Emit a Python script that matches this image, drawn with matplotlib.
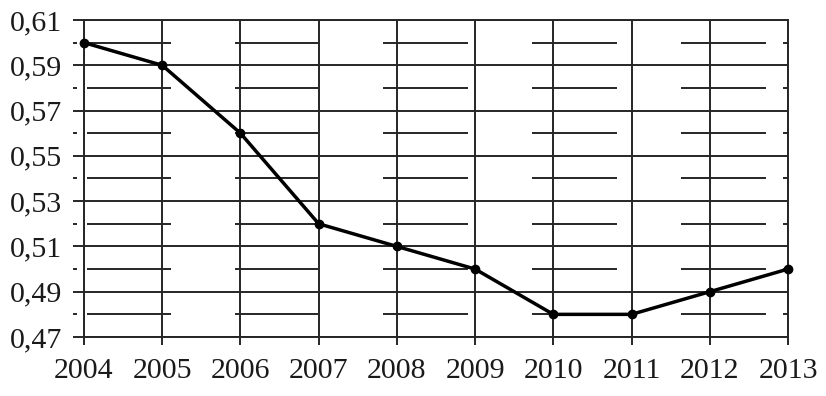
import matplotlib
matplotlib.use("Agg")
import matplotlib.pyplot as plt
from matplotlib.ticker import FuncFormatter

# DATA
years = [2004, 2005, 2006, 2007, 2008, 2009, 2010, 2011, 2012, 2013]
values = [0.60, 0.59, 0.56, 0.52, 0.51, 0.50, 0.48, 0.48, 0.49, 0.50]
y_major = [0.47, 0.49, 0.51, 0.53, 0.55, 0.57, 0.59, 0.61]
y_minor = [0.48, 0.50, 0.52, 0.54, 0.56, 0.58, 0.60]

# broken minor gridline pieces (in year units), as in the original picture
minor_spans = [(2004.04, 2005.11), (2005.93, 2006.99), (2007.82, 2008.91),
               (2009.73, 2010.82), (2011.63, 2012.72), (2012.93, 2013.0)]

GRID = "#262626"
LW = 1.4

plt.rcParams["font.family"] = ["Liberation Serif", "DejaVu Serif"]

fig = plt.figure(figsize=(8.26, 3.96), dpi=100)
ax = fig.add_axes([84 / 826, 1 - 337 / 396, (788 - 84) / 826, (337 - 20) / 396])

ax.set_xlim(2004, 2013)
ax.set_ylim(0.47, 0.61)
ax.set_xticks(years)
ax.set_yticks(y_major)
ax.yaxis.set_major_formatter(FuncFormatter(lambda v, p: f"{v:.2f}".replace(".", ",")))

ax.tick_params(axis="x", direction="out", length=6, width=LW, color=GRID,
               labelsize=21.5, pad=9, labelcolor="#1a1a1a")
ax.tick_params(axis="y", direction="out", length=8, width=LW, color=GRID,
               labelsize=21.5, pad=8, labelcolor="#1a1a1a")

for s in ax.spines.values():
    s.set_linewidth(LW)
    s.set_color(GRID)

ax.grid(True, color=GRID, linewidth=LW)

# minor levels: short dash left of the axis + broken segments
for y in y_minor:
    ax.plot([2003.86, 2003.91], [y, y], color=GRID, lw=LW, clip_on=False,
            solid_capstyle="butt")
    for a, b in minor_spans:
        ax.plot([a, b], [y, y], color=GRID, lw=LW, solid_capstyle="butt")

ax.plot(years, values, color="black", lw=2.5, marker="o", markersize=6,
        zorder=5, clip_on=False)

fig.savefig("out.png", dpi=100)
